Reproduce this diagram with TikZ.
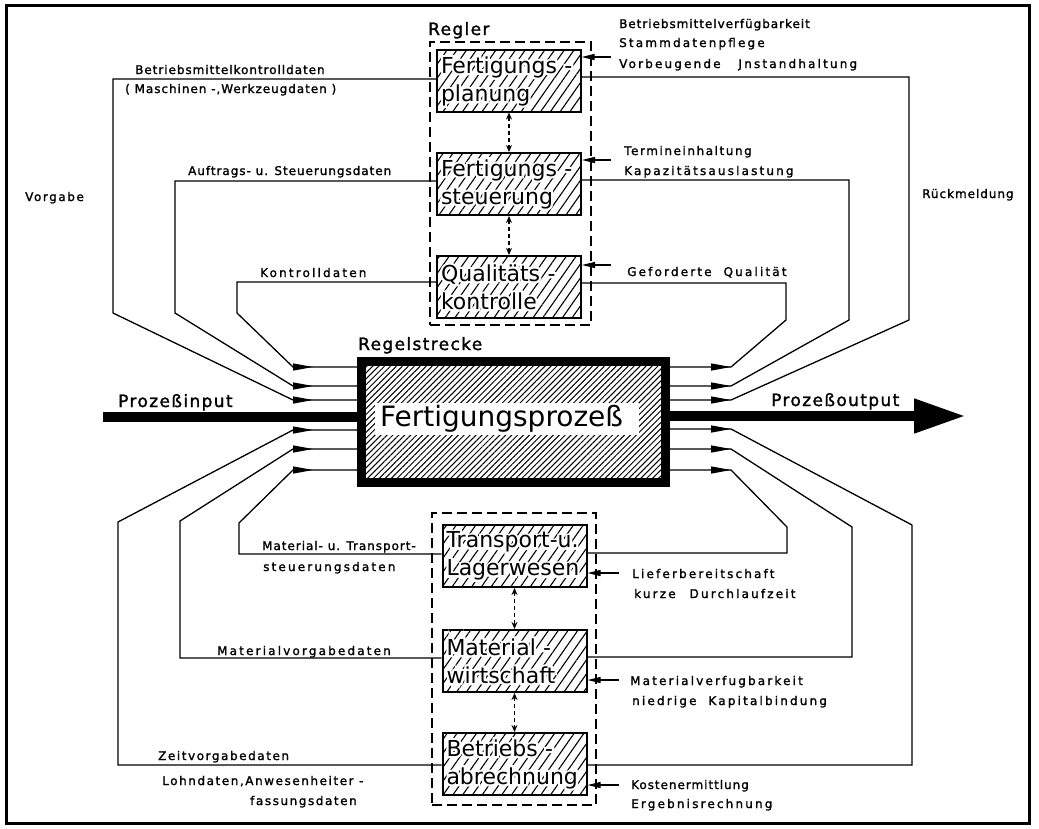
\documentclass[tikz,border=0pt]{standalone}
\usepackage{fontspec}
\setmainfont{DejaVu Sans}
\newfontfamily\lblN[LetterSpace=8,FakeBold=1.5]{DejaVu Sans}
\newfontfamily\lblM[LetterSpace=13,FakeBold=1.5]{DejaVu Sans}
\newfontfamily\lblW[LetterSpace=18,FakeBold=1.5]{DejaVu Sans}
\newfontfamily\halofont[FakeBold=20]{DejaVu Sans}
\usetikzlibrary{arrows.meta,patterns.meta}
% text on hatched ground: white outline underneath, black text on top
\newcommand\boxtxt[1]{\mbox{\rlap{\halofont\color{white}#1}#1}}
\tikzset{
  frame/.style={draw, line width=3pt, inner sep=0pt},
  group/.style={draw, line width=1.5pt, dash pattern=on 10pt off 5pt, inner sep=0pt},
  sbox/.style={draw, line width=2pt, minimum width=144pt, minimum height=62pt, inner sep=0pt,
    pattern={Lines[angle=55,distance=8pt,line width=1.1pt]},
    text width=136pt, align=left, font=\fontsize{22}{28}\selectfont},
  proc/.style={draw, line width=9pt, minimum width=304pt, minimum height=121pt, inner sep=0pt,
    pattern={Lines[angle=45,distance=4.2pt,line width=1pt]}},
  proclbl/.style={fill=white, minimum width=264pt, minimum height=32pt, inner sep=0pt,
    text width=254pt, align=left, font=\fontsize{28}{32}\selectfont},
  conn/.style={line width=1.3pt},
  tip/.style={line width=1.3pt, -{Triangle[length=20pt,width=7pt]}},
  inarr/.style={line width=1.3pt, -{Triangle[length=13pt,width=6pt]}},
  link/.style={line width=1.1pt, dash pattern=on 4pt off 3pt,
    {Stealth[length=7pt,width=6pt]}-{Stealth[length=7pt,width=6pt]}},
  bar/.style={line width=10.5pt},
  big/.style={anchor=base west, inner sep=0pt, font=\lblN\fontsize{17}{20}\selectfont},
  tN/.style={anchor=base west, inner sep=0pt, font=\lblN\fontsize{12}{14}\selectfont},
  tM/.style={anchor=base west, inner sep=0pt, font=\lblM\fontsize{12}{14}\selectfont},
  tW/.style={anchor=base west, inner sep=0pt, font=\lblW\fontsize{12}{14}\selectfont},
}
\begin{document}
\begin{tikzpicture}[x=1pt,y=-1pt]
\useasboundingbox (0,0) rectangle (1039,828);

% outer frame
\node[frame, minimum width=1023pt, minimum height=818pt] (frame) at (517.5,414) {};

% controller group and logistics group
\node[group, minimum width=161pt, minimum height=283pt] (regler) at (510.5,183.5) {};
\node[group, minimum width=164pt, minimum height=292pt] (logistik) at (514,659) {};
\node[big] (reglerLbl) at (428,35) {Regler};

% function blocks
\node[sbox] (fp) at (509,81) {\boxtxt{Fertigungs -}\\\boxtxt{planung}};
\node[sbox] (fs) at (509,184) {\boxtxt{Fertigungs -}\\\boxtxt{steuerung}};
\node[sbox] (fq) at (509,287) {\boxtxt{Qualitäts -}\\\boxtxt{kontrolle}};
\node[sbox] (tr) at (514.5,556) {\boxtxt{Transport-u.}\\\boxtxt{Lagerwesen}};
\node[sbox] (mw) at (514.5,661) {\boxtxt{Material -}\\\boxtxt{wirtschaft}};
\node[sbox] (ba) at (514.5,764) {\boxtxt{Betriebs -}\\\boxtxt{abrechnung}};

\draw[link] (fp.south) -- (fs.north);
\draw[link] (fs.south) -- (fq.north);
\draw[link] (tr.south) -- (mw.north);
\draw[link] (mw.south) -- (ba.north);

% controlled process
\node[proc] (proc) at (513.5,422) {};
\node[proclbl] (procLbl) at (507,419) {Fertigungsprozeß};
\node[big] (rsLbl) at (358,350) {Regelstrecke};

% arrow tip points beside the process block
\coordinate (li1) at (313,367);
\coordinate (li2) at (313,386);
\coordinate (li3) at (313,400);
\coordinate (li4) at (313,430);
\coordinate (li5) at (313,449);
\coordinate (li6) at (313,470);
\coordinate (ro1) at (731,367);
\coordinate (ro2) at (731,386);
\coordinate (ro3) at (731,400);
\coordinate (ro4) at (731,429);
\coordinate (ro5) at (731,449);
\coordinate (ro6) at (731,470);

% set values (left)
\draw[conn] ([yshift=2pt]fp.west) -| (113,313) -- ([xshift=-20pt]li3) -- (proc.west |- li3);
\draw[conn] ([yshift=3pt]fs.west) -| (175,313) -- ([xshift=-20pt]li2) -- (proc.west |- li2);
\draw[conn] ([yshift=5pt]fq.west) -| (237,313) -- ([xshift=-20pt]li1) -- (proc.west |- li1);
\draw[conn] ([yshift=-1pt]ba.west) -| (118,522) -- ([xshift=-20pt]li4) -- (proc.west |- li4);
\draw[conn] ([yshift=3pt]mw.west) -| (180,521) -- ([xshift=-20pt]li5) -- (proc.west |- li5);
\draw[conn] ([yshift=2pt]tr.west) -| (239,523) -- ([xshift=-20pt]li6) -- (proc.west |- li6);
\foreach \p in {li1,li2,li3,li4,li5,li6} \draw[tip] ([xshift=-20pt]\p) -- (\p);

% feedback (right)
\draw[conn] ([yshift=4pt]fp.east) -| (909,320) -- (ro3) -- (proc.east |- ro3);
\draw[conn] ([yshift=4pt]fs.east) -| (849,320) -- (ro2) -- (proc.east |- ro2);
\draw[conn] ([yshift=4pt]fq.east) -| (786,320) -- (ro1) -- (proc.east |- ro1);
\draw[conn] ([yshift=-1pt]ba.east) -| (912,525) -- (ro4) -- (proc.east |- ro4);
\draw[conn] ([yshift=4pt]mw.east) -| (852,527) -- (ro5) -- (proc.east |- ro5);
\draw[conn] ([yshift=3pt]tr.east) -| (787,527) -- (ro6) -- (proc.east |- ro6);
\foreach \p in {ro1,ro2,ro3,ro4,ro5,ro6} \draw[tip] ([xshift=-20pt]\p) -- (\p);

% targets fed into the blocks
\coordinate (qfp) at (611,57);
\coordinate (qfs) at (611,160);
\coordinate (qfq) at (611,265);
\coordinate (qtr) at (619,573);
\coordinate (qmw) at (619,680);
\coordinate (qba) at (619,785);
\draw[inarr] (qfp) -- (fp.east |- qfp);
\draw[inarr] (qfs) -- (fs.east |- qfs);
\draw[inarr] (qfq) -- (fq.east |- qfq);
\draw[inarr] (qtr) -- (tr.east |- qtr);
\draw[inarr] (qmw) -- (mw.east |- qmw);
\draw[inarr] (qba) -- (ba.east |- qba);

% process input and output
\coordinate (pin) at (103,417);
\coordinate (pout) at (966,416);
\draw[bar] (pin) -- (proc.west |- pin);
\draw[bar, -{Triangle[length=52pt,width=32pt]}] (proc.east |- pout) -- (pout);
\node[big] (inLbl) at (118,407) {Prozeßinput};
\node[big] (outLbl) at (771,406) {Prozeßoutput};

% labels, left side
\node[tN] (t1) at (135,74) {Betriebsmittelkontrolldaten};
\node[tN] (t2) at (125,93) {( Maschinen -,Werkzeugdaten )};
\node[tN] (t3) at (188,175) {Auftrags- u. Steuerungsdaten};
\node[tM] (t4) at (25,201) {Vorgabe};
\node[tW] (t5) at (260,277) {Kontrolldaten};
\node[tN] (t6) at (262,550) {Material- u. Transport-};
\node[tW] (t7) at (263,571) {steuerungsdaten};
\node[tW] (t8) at (217,655) {Materialvorgabedaten};
\node[tM] (t9) at (158,760) {Zeitvorgabedaten};
\node[tM] (t10) at (162,785) {Lohndaten,Anwesenheiter -};
\node[tM] (t11) at (250,805) {fassungsdaten};

% labels, right side
\node[tN] (r1) at (619,28) {Betriebsmittelverfügbarkeit};
\node[tW] (r2) at (619,47) {Stammdatenpflege};
\node[tW] (r3) at (619,68) {Vorbeugende\hspace{12pt} Jnstandhaltung};
\node[tM] (r4) at (624,155) {Termineinhaltung};
\node[tW] (r5) at (624,175) {Kapazitätsauslastung};
\node[tW] (r6) at (627,276) {Geforderte\hspace{6pt} Qualität};
\node[tN] (r7) at (922,198) {Rückmeldung};
\node[tW] (r8) at (632,578) {Lieferbereitschaft};
\node[tW] (r9) at (634,598) {kurze\hspace{8pt} Durchlaufzeit};
\node[tW] (r10) at (630,685) {Materialverfugbarkeit};
\node[tW] (r11) at (632,705) {niedrige\hspace{6pt} Kapitalbindung};
\node[tN] (r12) at (631,789) {Kostenermittlung};
\node[tW] (r13) at (631,808) {Ergebnisrechnung};
\end{tikzpicture}
\end{document}
